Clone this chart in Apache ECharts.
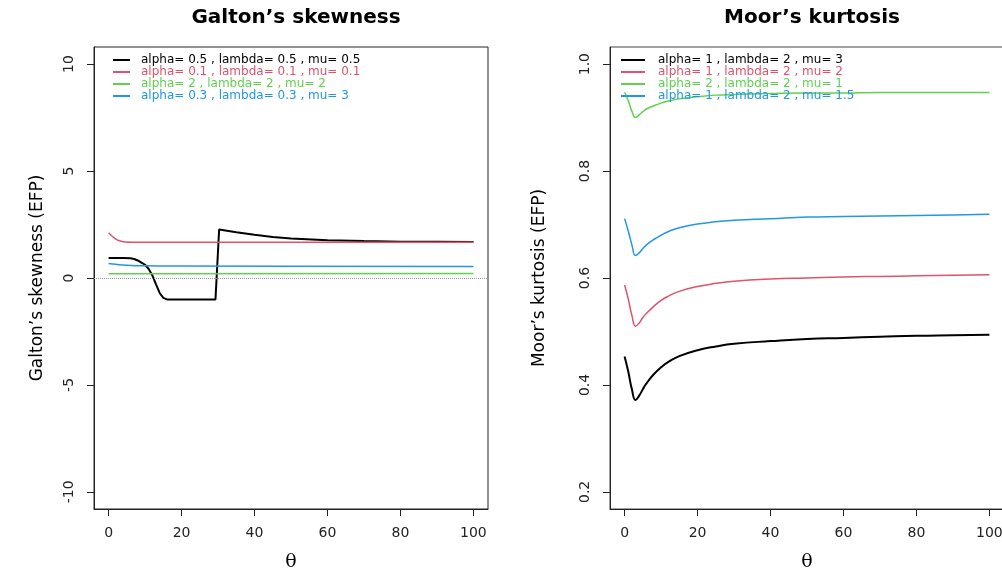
<!DOCTYPE html>
<html>
<head>
<meta charset="utf-8">
<script src="https://cdn.jsdelivr.net/npm/echarts@6/dist/echarts.min.js"></script>
<style>
  html, body { margin: 0; padding: 0; background: #fff; }
  #chart { width: 1002px; height: 570px; }
</style>
</head>
<body>
<div id="chart"></div>
<script>
  // ---- left panel: Galton's skewness ----
  var galtonNames = [
    'alpha= 0.5 , lambda= 0.5 , mu= 0.5',
    'alpha= 0.1 , lambda= 0.1 , mu= 0.1',
    'alpha= 2 , lambda= 2 , mu= 2',
    'alpha= 0.3 , lambda= 0.3 , mu= 3'
  ];
  var galtonTheta1 = [0, 2, 4, 6, 7, 8, 9, 10, 11, 12, 13, 14, 15, 16, 20, 25, 29.3, 30.3, 35, 40, 45, 50, 60, 70, 80, 90, 100];
  var galtonVal1 = [0.93, 0.94, 0.94, 0.92, 0.89, 0.82, 0.72, 0.62, 0.42, 0.12, -0.3, -0.7, -0.93, -1, -1, -1, -1, 2.27, 2.14, 2.02, 1.92, 1.85, 1.77, 1.73, 1.70, 1.69, 1.68];
  var galtonTheta2 = [0, 1, 2, 3, 4, 5, 6, 8, 100];
  var galtonVal2 = [2.12, 1.95, 1.82, 1.74, 1.70, 1.68, 1.67, 1.67, 1.67];
  var galtonTheta3 = [0, 100];
  var galtonVal3 = [0.20, 0.21];
  var galtonTheta4 = [0, 2, 5, 10, 20, 100];
  var galtonVal4 = [0.68, 0.64, 0.60, 0.57, 0.56, 0.54];

  // ---- right panel: Moor's kurtosis ----
  var moorNames = [
    'alpha= 1 , lambda= 2 , mu= 3',
    'alpha= 1 , lambda= 2 , mu= 2',
    'alpha= 2 , lambda= 2 , mu= 1',
    'alpha= 1 , lambda= 2 , mu= 1.5'
  ];
  var moorTheta = [0, 1, 2, 3, 4, 5, 6, 8, 10, 12, 15, 20, 25, 30, 40, 50, 60, 70, 80, 90, 100];
  var moorVal1 = [0.453, 0.425, 0.392, 0.372, 0.380, 0.392, 0.403, 0.420, 0.433, 0.443, 0.454, 0.465, 0.472, 0.477, 0.482, 0.486, 0.488, 0.490, 0.492, 0.493, 0.494];
  var moorVal2 = [0.587, 0.561, 0.530, 0.510, 0.516, 0.526, 0.534, 0.547, 0.558, 0.566, 0.575, 0.584, 0.590, 0.594, 0.598, 0.600, 0.602, 0.603, 0.604, 0.605, 0.606];
  var moorVal3 = [0.947, 0.932, 0.912, 0.900, 0.905, 0.911, 0.916, 0.922, 0.927, 0.931, 0.935, 0.939, 0.942, 0.943, 0.945, 0.946, 0.946, 0.947, 0.947, 0.947, 0.947];
  var moorVal4 = [0.711, 0.688, 0.662, 0.642, 0.647, 0.655, 0.662, 0.672, 0.680, 0.687, 0.694, 0.701, 0.705, 0.708, 0.711, 0.714, 0.715, 0.716, 0.717, 0.718, 0.719];

  var xTicks = [0, 20, 40, 60, 80, 100];
  var galtonTicks = [-10, -5, 0, 5, 10];
  var moorTicks = [0.2, 0.4, 0.6, 0.8, 1.0];

  var colors = ['#000000', '#DF536B', '#61D04F', '#2297E6'];
  var widths = [2, 1.5, 1.5, 1.5];
  var font = 'DejaVu Sans, sans-serif';

  function pairs(xs, ys) {
    return xs.map(function (x, i) { return [x, ys[i]]; });
  }

  function xAxisFor(idx) {
    return {
      gridIndex: idx, type: 'value', min: -4, max: 104,
      name: 'θ', nameLocation: 'middle', nameGap: 44,
      nameTextStyle: { fontFamily: 'DejaVu Serif, serif', fontSize: 19, color: '#000' },
      axisLine: { show: true, onZero: false, lineStyle: { color: '#222' } },
      axisTick: { show: true, length: 7, customValues: xTicks, lineStyle: { color: '#222' } },
      axisLabel: { customValues: xTicks, margin: 17, fontFamily: font, fontSize: 14, color: '#222' },
      splitLine: { show: false }
    };
  }

  function yAxisFor(idx, min, max, ticks, name, nameGap, fmt) {
    return {
      gridIndex: idx, type: 'value', min: min, max: max,
      name: name, nameLocation: 'middle', nameGap: nameGap, nameRotate: 90,
      nameTextStyle: { fontFamily: font, fontSize: 17, color: '#000' },
      axisLine: { show: true, onZero: false, lineStyle: { color: '#222' } },
      axisTick: { show: true, length: 7, customValues: ticks, lineStyle: { color: '#222' } },
      axisLabel: { customValues: ticks, rotate: 90, margin: 18, fontFamily: font, fontSize: 14, color: '#222', formatter: fmt },
      splitLine: { show: false }
    };
  }

  var galtonSeries = [
    pairs(galtonTheta1, galtonVal1),
    pairs(galtonTheta2, galtonVal2),
    pairs(galtonTheta3, galtonVal3),
    pairs(galtonTheta4, galtonVal4)
  ];
  var moorSeries = [
    pairs(moorTheta, moorVal1),
    pairs(moorTheta, moorVal2),
    pairs(moorTheta, moorVal3),
    pairs(moorTheta, moorVal4)
  ];

  var series = [];
  galtonSeries.forEach(function (d, i) {
    var s = {
      name: galtonNames[i], type: 'line', xAxisIndex: 0, yAxisIndex: 0,
      data: d, showSymbol: false, symbol: 'none',
      smooth: i === 0 ? false : 0.4,
      lineStyle: { color: colors[i], width: widths[i] }, itemStyle: { color: colors[i] },
      animation: false
    };
    if (i === 0) {
      // dotted reference line at zero
      s.markLine = {
        silent: true, symbol: 'none', label: { show: false },
        lineStyle: { color: '#999', type: 'dotted', width: 1 },
        data: [{ yAxis: 0 }]
      };
    }
    series.push(s);
  });
  moorSeries.forEach(function (d, i) {
    series.push({
      name: moorNames[i], type: 'line', xAxisIndex: 1, yAxisIndex: 1,
      data: d, showSymbol: false, symbol: 'none',
      smooth: 0.5,
      lineStyle: { color: colors[i], width: widths[i] }, itemStyle: { color: colors[i] },
      animation: false
    });
  });

  function legendFor(names, left, itemW, gap) {
    return {
      orient: 'vertical', left: left, top: 54, itemGap: 0, padding: 0,
      itemWidth: itemW, itemHeight: 2, icon: 'rect',
      textStyle: { fontFamily: font, fontSize: 12, lineHeight: 11.7, padding: [0, 0, 0, gap] },
      data: names.map(function (n, i) {
        return { name: n, textStyle: { color: colors[i] } };
      })
    };
  }

  var myChart = echarts.init(document.getElementById('chart'), null, { renderer: 'canvas' });
  var option = {
    backgroundColor: '#fff',
    animation: false,
    title: [
      { text: 'Galton’s skewness', left: 291, top: 3, textAlign: 'center',
        textStyle: { fontFamily: font, fontSize: 20, fontWeight: 'bold', color: '#000' } },
      { text: 'Moor’s kurtosis', left: 807, top: 3, textAlign: 'center',
        textStyle: { fontFamily: font, fontSize: 20, fontWeight: 'bold', color: '#000' } }
    ],
    legend: [legendFor(galtonNames, 113, 17, 6), legendFor(moorNames, 621, 24, 8)],
    grid: [
      { left: 94, top: 47, width: 394, height: 462, outerBoundsMode: 'none', containLabel: false,
        show: true, borderColor: '#222', borderWidth: 1 },
      { left: 610, top: 47, width: 394, height: 462, outerBoundsMode: 'none', containLabel: false,
        show: true, borderColor: '#444', borderWidth: 1 }
    ],
    xAxis: [xAxisFor(0), xAxisFor(1)],
    yAxis: [
      yAxisFor(0, -10.8, 10.8, galtonTicks, 'Galton’s skewness (EFP)', 48, function (v) { return String(v); }),
      yAxisFor(1, 0.168, 1.032, moorTicks, 'Moor’s kurtosis (EFP)', 62, function (v) { return v.toFixed(1); })
    ],
    series: series
  };
  myChart.setOption(option);
</script>
</body>
</html>
